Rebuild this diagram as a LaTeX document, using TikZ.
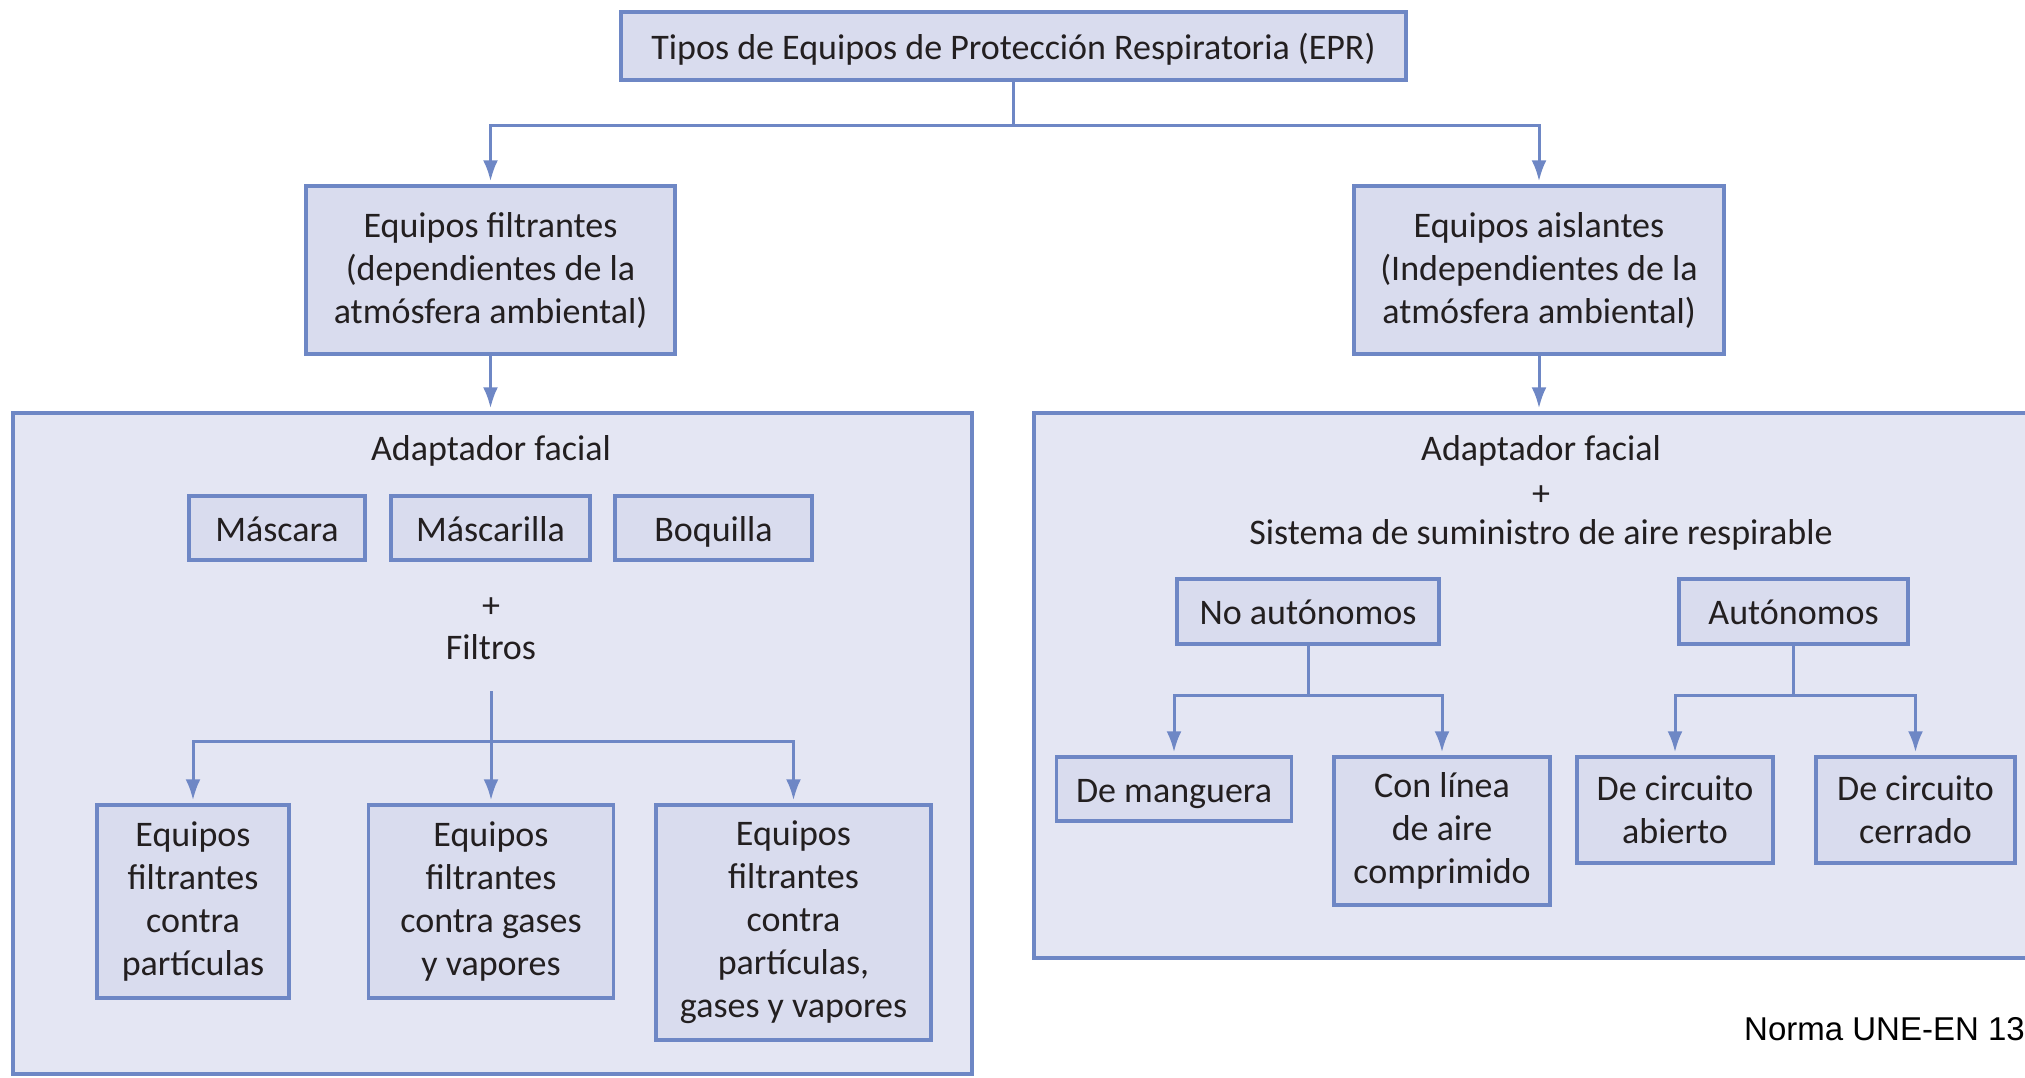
\documentclass[tikz,border=0pt]{standalone}
\usepackage{fontspec}
\setmainfont{Carlito}
\newfontfamily\normfont{Liberation Sans}
\usetikzlibrary{arrows.meta,calc}
\definecolor{bordc}{HTML}{6E87C5}
\definecolor{boxfill}{HTML}{D9DCEE}
\definecolor{bigfill}{HTML}{E4E6F3}
\definecolor{txt}{HTML}{231F20}
\tikzset{
  box/.style={draw=bordc, line width=3.5pt, fill=boxfill, inner sep=0pt, align=center,
    text=txt, font=\fontsize{36}{43}\selectfont},
  onebox/.style={box, text height=29pt, text depth=3pt},
  bigbox/.style={draw=bordc, line width=3.5pt, fill=bigfill, inner sep=0pt},
  lbl/.style={text=txt, inner sep=0pt, align=center, font=\fontsize{36}{43}\selectfont},
  conn/.style={draw=bordc, line width=3pt},
  arr/.style={draw=bordc, line width=3pt, -{Latex[length=21pt,width=15pt]}, shorten >=3pt}
}
\begin{document}
\begin{tikzpicture}[x=1pt,y=-1pt]
\useasboundingbox (0,0) rectangle (2025,1077);
% big boxes
\node[bigbox, minimum width=959, minimum height=661] (bigL) at (492.5,743.5) {};
\node[bigbox, minimum width=1046, minimum height=545] (bigR) at (1557,685.5) {};
% top level
\node[onebox, minimum width=785, minimum height=68] (top) at (1013.5,46) {Tipos de Equipos de Protección Respiratoria (EPR)};
\node[box, minimum width=369, minimum height=168] (filt) at (490.5,270) {Equipos filtrantes\\(dependientes de la\\atmósfera ambiental)};
\node[box, minimum width=370, minimum height=168] (aisl) at (1539,270) {Equipos aislantes\\(Independientes de la\\atmósfera ambiental)};
\coordinate (j1) at (1013.5,125);
\draw[conn] (top.south) -- (j1);
\draw[arr] (j1) -| (filt.north);
\draw[arr] (j1) -| (aisl.north);
\draw[arr] (filt.south) -- (filt.south |- bigL.north);
\draw[arr] (aisl.south) -- (aisl.south |- bigR.north);
% left content
\node[lbl] (adL) at (491,451) {Adaptador facial};
\node[onebox, minimum width=176, minimum height=64] (masc) at (277,528) {Máscara};
\node[onebox, minimum width=199, minimum height=64] (mascl) at (490.5,528) {Máscarilla};
\node[onebox, minimum width=197, minimum height=64] (boq) at (713.5,528) {Boquilla};
\node[lbl] (plusL) at (491,608) {+};
\node[lbl] (filtros) at (491,647) {Filtros};
\coordinate (fs) at (491,691);
\coordinate (j2) at (491,741);
\node[box, minimum width=192, minimum height=193] (b1) at (193,901.5) {Equipos\\filtrantes\\contra\\partículas};
\node[box, minimum width=245, minimum height=193] (b2) at (491,901.5) {Equipos\\filtrantes\\contra gases\\y vapores};
\node[box, minimum width=275, minimum height=235] (b3) at (793.5,922.5) {Equipos\\filtrantes\\contra\\partículas,\\gases y vapores};
\draw[conn] (fs) -- (j2);
\draw[arr] (j2) -| (b1.north);
\draw[arr] (j2) -- (b2.north);
\draw[arr] (j2) -| (b3.north);
% right content
\node[lbl] (adR) at (1541,451) {Adaptador facial};
\node[lbl] (plusR) at (1541,496) {+};
\node[lbl] (sis) at (1541,535) {Sistema de suministro de aire respirable};
\node[onebox, minimum width=262, minimum height=65] (noa) at (1308,611.5) {No autónomos};
\node[onebox, minimum width=229, minimum height=65] (aut) at (1793.5,611.5) {Autónomos};
\node[onebox, minimum width=235, minimum height=64] (man) at (1174,789) {De manguera};
\node[box, minimum width=216, minimum height=148] (con) at (1442,831) {Con línea\\de aire\\comprimido};
\node[box, minimum width=196, minimum height=106] (abi) at (1675,810) {De circuito\\abierto};
\node[box, minimum width=199, minimum height=106] (cer) at (1915.5,810) {De circuito\\cerrado};
\coordinate (j3) at (1308,695);
\coordinate (j4) at (1793.5,695);
\draw[conn] (noa.south) -- (j3);
\draw[arr] (j3) -| (man.north);
\draw[arr] (j3) -| (con.north);
\draw[conn] (aut.south) -- (aut.south |- j4);
\draw[arr] (aut.south |- j4) -| (abi.north);
\draw[arr] (aut.south |- j4) -| (cer.north);
% source note
\node[anchor=west, inner sep=0pt, font=\normfont\fontsize{33}{38}\selectfont] (norma) at (1744,1029) {Norma UNE-EN 133};
\end{tikzpicture}
\end{document}
